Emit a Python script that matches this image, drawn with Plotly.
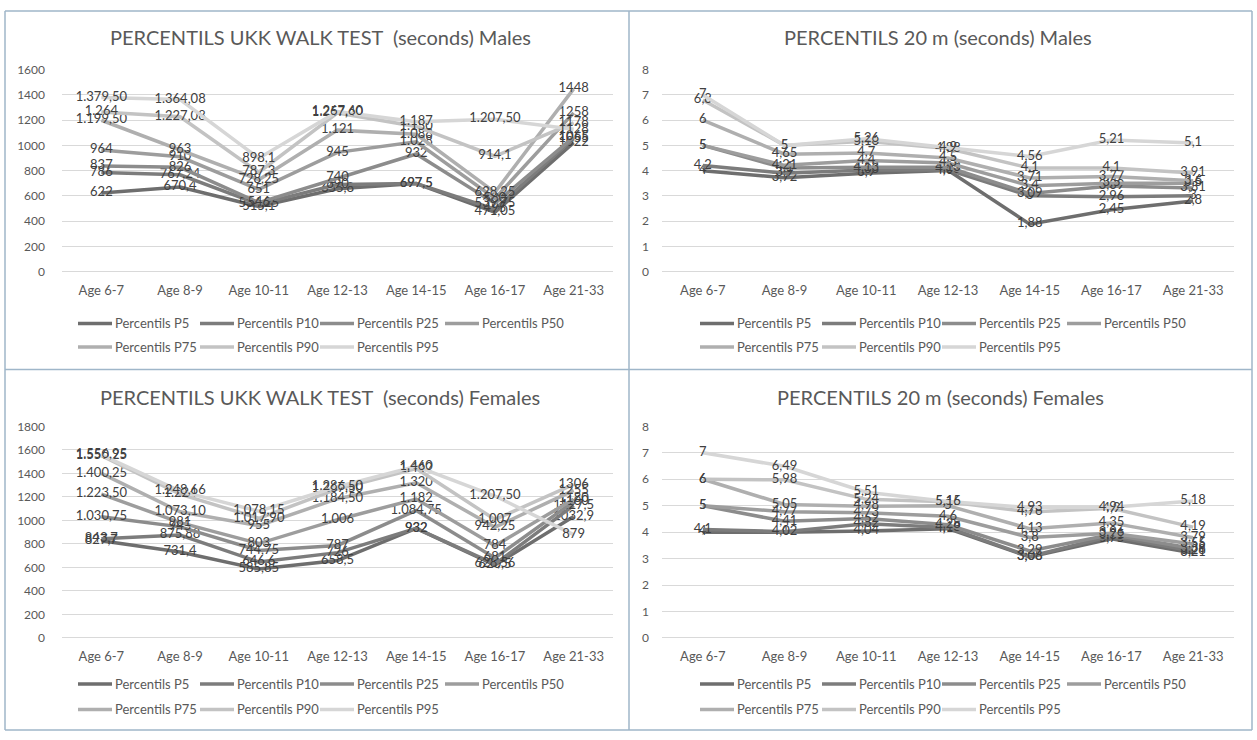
import plotly.graph_objects as go

# ---------------- data ----------------
CATEGORIES = ["Age 6-7", "Age 8-9", "Age 10-11", "Age 12-13", "Age 14-15", "Age 16-17", "Age 21-33"]
SERIES = ["Percentils P5", "Percentils P10", "Percentils P25", "Percentils P50",
          "Percentils P75", "Percentils P90", "Percentils P95"]

# UKK walk test (seconds) - Males, rows P5..P95
UKK_MALES = [
    [622, 670.4, 515.1, 655.8, 697.5, 471.05, 1022],
    [786, 767.24, 534.25, 690, 697.5, 495, 1055],
    [837, 826, 546, 740, 932, 539.75, 1065],
    [964, 910, 651, 945, 1028, 580, 1258],
    [1199.5, 963, 728.25, 1121, 1088, 628.25, 1448],
    [1264, 1227.08, 787.3, 1257.4, 1150, 914.1, 1178],
    [1379.5, 1364.08, 898.1, 1267.6, 1187, 1207.5, 1128],
]
# 20 m (seconds) - Males
M20_MALES = [
    [4, 3.72, 3.9, 4.01, 1.88, 2.45, 2.8],
    [4.2, 3.9, 4.03, 4.03, 3, 2.96, 3],
    [5, 4.1, 4.13, 4.13, 3.09, 3.39, 3.31],
    [5, 4.21, 4.4, 4.3, 3.4, 3.5, 3.5],
    [6, 4.65, 4.7, 4.5, 3.71, 3.77, 3.6],
    [6.8, 5, 5.16, 4.88, 4.1, 4.1, 3.91],
    [7, 5, 5.26, 4.9, 4.56, 5.21, 5.1],
]
# UKK walk test (seconds) - Females
UKK_FEMALES = [
    [827.7, 731.4, 585.85, 658.5, 932, 620.5, 1032.9],
    [843.7, 875.88, 646.6, 726, 932, 628.56, 1127.5],
    [1030.75, 945, 744.75, 787, 1084.75, 681, 1160],
    [1223.5, 981, 803, 1006, 1182, 784, 1180],
    [1400.25, 1073.1, 955, 1184.5, 1320, 942.25, 1255],
    [1550.25, 1224, 1017.9, 1267.5, 1442, 1007, 1306],
    [1556.95, 1248.66, 1078.15, 1286.5, 1460, 1207.5, 879],
]
# 20 m (seconds) - Females
M20_FEMALES = [
    [4, 4, 4.04, 4.13, 3.06, 3.75, 3.21],
    [4.1, 4.02, 4.32, 4.18, 3.08, 3.85, 3.28],
    [5, 4.41, 4.52, 4.28, 3.29, 3.91, 3.38],
    [5, 4.77, 4.73, 4.6, 3.8, 3.96, 3.55],
    [6, 5.05, 4.98, 5, 4.13, 4.35, 3.79],
    [6, 5.98, 5.24, 5.15, 4.76, 4.9, 4.19],
    [7, 6.49, 5.51, 5.16, 4.93, 4.94, 5.18],
]

TITLES = ["PERCENTILS UKK WALK TEST  (seconds) Males", "PERCENTILS 20 m (seconds) Males",
          "PERCENTILS UKK WALK TEST  (seconds) Females", "PERCENTILS 20 m (seconds) Females"]

# ---------------- style ----------------
W, H = 1257, 740
FONT = "Lato"
TXT = "#595959"
LBL = "#404040"
GRID = "#d9d9d9"
BORDER = "#9fb6c9"
COLORS = ["#6e6e6e", "#7c7c7c", "#8c8c8c", "#9d9d9d", "#afafaf", "#c3c3c3", "#d6d6d6"]


def px_x(x):
    return x / W


def px_y(y):
    return 1 - y / H


def fmt(v, thousands):
    v = float(v)
    if v.is_integer():
        iv = int(v)
        if thousands and iv >= 1000:
            return f"{iv:,}".replace(",", ".")
        return str(iv)
    if thousands and v >= 1000:
        s = f"{v:,.2f}"
        return s.replace(",", "X").replace(".", ",").replace("X", ".")
    return str(v).replace(".", ",")


# panel geometry in pixels: (data, x_left, x_right, y_top, y_bottom, ymax, dtick, is_ukk, standoff)
PANELS = [
    (UKK_MALES, 62, 613, 63, 269, 1600, 200, True, 16),
    (M20_MALES, 662, 1234, 63, 269, 8, 1, False, 12),
    (UKK_FEMALES, 62, 613, 427, 643, 1800, 200, True, 16),
    (M20_FEMALES, 662, 1234, 427, 643, 8, 1, False, 12),
]

fig = go.Figure()
layout = dict(width=W, height=H, margin=dict(l=0, r=0, t=0, b=0),
              paper_bgcolor="white", plot_bgcolor="white", showlegend=False,
              font=dict(family=FONT, color=TXT, size=12))

for p, (data, xl, xr, yt, yb, ymax, dt, is_ukk, stand) in enumerate(PANELS):
    n = "" if p == 0 else str(p + 1)
    for k, vals in enumerate(data):
        labels = [fmt(v, is_ukk and i < len(vals) - 1) for i, v in enumerate(vals)]
        fig.add_trace(go.Scatter(
            x=CATEGORIES, y=vals, name=SERIES[k], mode="lines+text",
            text=labels, textposition="middle center",
            textfont=dict(family=FONT, size=13, color=LBL),
            line=dict(color=COLORS[k], width=3.5),
            xaxis="x" + n, yaxis="y" + n, cliponaxis=False, hoverinfo="skip"))
    layout["xaxis" + n] = dict(domain=[px_x(xl), px_x(xr)], anchor="y" + n,
                               type="category", range=[-0.5, 6.5], showgrid=False,
                               showline=False, zeroline=False, ticks="",
                               ticklabelstandoff=9,
                               tickfont=dict(family=FONT, size=13, color=TXT))
    layout["yaxis" + n] = dict(domain=[px_y(yb), px_y(yt)], anchor="x" + n,
                               range=[0, ymax], dtick=dt, showgrid=True, gridcolor=GRID,
                               gridwidth=1, zeroline=True, zerolinecolor=GRID, zerolinewidth=1,
                               showline=False, ticks="", ticklabelstandoff=stand,
                               tickfont=dict(family=FONT, size=12, color=TXT))

annotations = []
shapes = []
title_pos = [(320, 30), (938, 30), (320, 397), (940, 397)]
for t, (cx, cy) in zip(TITLES, title_pos):
    annotations.append(dict(text=t, x=px_x(cx), y=px_y(cy), xref="paper", yref="paper",
                            showarrow=False, xanchor="center", yanchor="middle",
                            font=dict(family=FONT, size=20, color=TXT)))

# legends (two rows per panel)
leg_origin = [(78, 322, 346), (700, 322, 346), (78, 690, 716), (700, 690, 716)]
offsets = [0, 122, 242, 367]
for (x0, r1, r2) in leg_origin:
    for k, name in enumerate(SERIES):
        row = 0 if k < 4 else 1
        col = k if k < 4 else k - 4
        yy = r1 if row == 0 else r2
        lx = x0 + offsets[col]
        shapes.append(dict(type="line", xref="paper", yref="paper",
                           x0=px_x(lx), x1=px_x(lx + 34), y0=px_y(yy), y1=px_y(yy),
                           line=dict(color=COLORS[k], width=3.5)))
        annotations.append(dict(text=name, x=px_x(lx + 35), y=px_y(yy), xref="paper", yref="paper",
                                showarrow=False, xanchor="left", yanchor="middle",
                                font=dict(family=FONT, size=13, color=TXT)))

# panel borders
for (a, b, c, d) in [(5, 3, 1252, 3), (5, 737, 1252, 737), (5, 3, 5, 737), (1252, 3, 1252, 737),
                     (629, 3, 629, 737), (5, 369, 1252, 369)]:
    shapes.append(dict(type="line", xref="paper", yref="paper",
                       x0=px_x(a), y0=px_y(b), x1=px_x(c), y1=px_y(d),
                       line=dict(color=BORDER, width=1.5)))

layout["annotations"] = annotations
layout["shapes"] = shapes
fig.update_layout(**layout)
fig.write_html("out.html", config={"displayModeBar": False},
               post_script="document.body.style.margin='0';")
